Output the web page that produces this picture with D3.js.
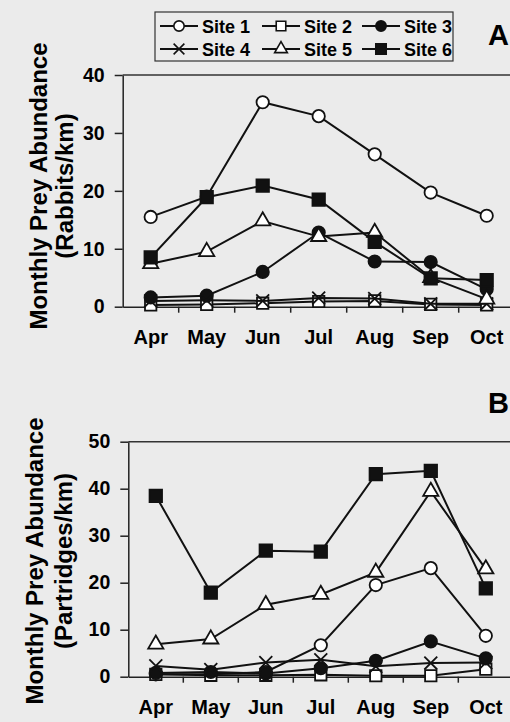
<!DOCTYPE html>
<html>
<head>
<meta charset="utf-8">
<title>Monthly prey abundance</title>
<script src="https://d3js.org/d3.v7.min.js"></script>
<style>
  body { margin: 0; background: #ebebeb; }
  svg { display: block; font-family: "Liberation Sans", Arial, sans-serif; font-weight: bold; }
  .axis text { font-size: 19.5px; font-weight: bold; fill: #000; font-family: "Liberation Sans", Arial, sans-serif; }
  .axis path, .axis line { stroke: #222; stroke-width: 1.5; }
</style>
</head>
<body>
<svg width="510" height="722"></svg>
<script>
// months on the x axis
var months = ["Apr", "May", "Jun", "Jul", "Aug", "Sep", "Oct"];
var siteNames = ["Site 1", "Site 2", "Site 3", "Site 4", "Site 5", "Site 6"];

// panel A: rabbits / km
var rabbitSite1 = [15.5, 19.0, 35.3, 32.9, 26.3, 19.7, 15.7];
var rabbitSite2 = [0.3, 0.4, 0.6, 0.9, 1.0, 0.4, 0.3];
var rabbitSite3 = [1.6, 1.9, 6.0, 12.8, 7.8, 7.7, 3.0];
var rabbitSite4 = [1.0, 1.1, 1.0, 1.5, 1.4, 0.5, 0.5];
var rabbitSite5 = [7.4, 9.5, 14.8, 12.1, 12.8, 5.0, 1.3];
var rabbitSite6 = [8.5, 18.9, 20.9, 18.5, 11.2, 4.9, 4.6];

// panel B: partridges / km
var partridgeSite1 = [0.5, 0.5, 1.0, 6.7, 19.5, 23.1, 8.7];
var partridgeSite2 = [0.5, 0.3, 0.3, 0.4, 0.2, 0.2, 1.6];
var partridgeSite3 = [0.8, 1.0, 0.7, 1.8, 3.4, 7.5, 3.9];
var partridgeSite4 = [2.3, 1.5, 3.0, 3.6, 2.2, 2.9, 3.0];
var partridgeSite5 = [6.9, 8.0, 15.3, 17.5, 22.2, 39.4, 22.9];
var partridgeSite6 = [38.5, 17.9, 26.8, 26.6, 43.1, 43.8, 18.8];

var rabbitTicks = [0, 10, 20, 30, 40];
var partridgeTicks = [0, 10, 20, 30, 40, 50];

var svg = d3.select("svg");

// marker for each site
var markers = [
  { type: d3.symbolCircle, size: 120, fill: "#fff" },
  { type: d3.symbolSquare, size: 130, fill: "#fff" },
  { type: d3.symbolCircle, size: 120, fill: "#111" },
  { type: d3.symbolX, size: 110, fill: "none" },
  { type: d3.symbolTriangle, size: 100, fill: "#fff" },
  { type: d3.symbolSquare, size: 155, fill: "#111" }
];

function drawPanel(opt) {
  var x = d3.scaleBand().domain(months).range([opt.left, opt.right]);
  var y = d3.scaleLinear().domain([0, d3.max(opt.ticks)]).range([opt.bottom, opt.top]);
  var g = svg.append("g");

  // top frame line
  g.append("line")
    .attr("x1", opt.left).attr("x2", opt.right)
    .attr("y1", y(d3.max(opt.ticks))).attr("y2", y(d3.max(opt.ticks)))
    .attr("stroke", "#333").attr("stroke-width", 1.5);

  g.append("g")
    .attr("class", "axis")
    .attr("transform", "translate(" + opt.left + ",0)")
    .call(d3.axisLeft(y).tickValues(opt.ticks).tickSize(8).tickSizeOuter(0).tickPadding(10));

  var xa = g.append("g")
    .attr("class", "axis")
    .attr("transform", "translate(0," + opt.bottom + ")")
    .call(d3.axisBottom(x).tickSize(0).tickPadding(opt.labelPad));
  xa.selectAll("text").style("font-size", "20px");
  // tick marks between months
  xa.selectAll(".sep")
    .data(months.slice(1))
    .enter().append("line")
    .attr("class", "sep")
    .attr("x1", function (d) { return x(d); })
    .attr("x2", function (d) { return x(d); })
    .attr("y1", 0).attr("y2", 6);

  var line = d3.line()
    .x(function (d, i) { return x(months[i]) + x.bandwidth() / 2; })
    .y(function (d) { return y(d); });

  opt.series.forEach(function (vals, s) {
    g.append("path")
      .attr("d", line(vals))
      .attr("fill", "none")
      .attr("stroke", "#111")
      .attr("stroke-width", 2);
    var m = markers[s];
    g.selectAll(".m" + s)
      .data(vals)
      .enter().append("path")
      .attr("transform", function (d, i) {
        return "translate(" + (x(months[i]) + x.bandwidth() / 2) + "," + y(d) + ")";
      })
      .attr("d", d3.symbol().type(m.type).size(m.size))
      .attr("fill", m.fill)
      .attr("stroke", "#111")
      .attr("stroke-width", 1.8);
  });

  // panel letter
  svg.append("text")
    .attr("x", 488).attr("y", opt.letterY)
    .style("font-size", "29px")
    .text(opt.letter);

  // y title, two lines
  svg.append("text")
    .attr("transform", "translate(" + opt.titleX1 + "," + opt.titleY + ") rotate(-90)")
    .attr("text-anchor", "middle")
    .style("font-size", "24px")
    .text("Monthly Prey Abundance");
  svg.append("text")
    .attr("transform", "translate(" + opt.titleX2 + "," + opt.titleY + ") rotate(-90)")
    .attr("text-anchor", "middle")
    .style("font-size", "24px")
    .text(opt.unit);
}

drawPanel({
  left: 122.7, right: 514.7, top: 75, bottom: 306.7, labelPad: 23,
  ticks: rabbitTicks,
  series: [rabbitSite1, rabbitSite2, rabbitSite3, rabbitSite4, rabbitSite5, rabbitSite6],
  letter: "A", letterY: 45, titleX1: 47, titleX2: 73, titleY: 186, unit: "(Rabbits/km)"
});

drawPanel({
  left: 128.3, right: 513.3, top: 441.7, bottom: 676.7, labelPad: 23,
  ticks: partridgeTicks,
  series: [partridgeSite1, partridgeSite2, partridgeSite3, partridgeSite4, partridgeSite5, partridgeSite6],
  letter: "B", letterY: 413, titleX1: 43, titleX2: 72, titleY: 561, unit: "(Partridges/km)"
});

// legend
var legend = svg.append("g");
legend.append("rect")
  .attr("x", 155).attr("y", 12).attr("width", 298).attr("height", 49)
  .attr("fill", "none").attr("stroke", "#333").attr("stroke-width", 1.2);

var legendCols = [160, 262, 362];
siteNames.forEach(function (name, i) {
  var x0 = legendCols[i % 3], yc = i < 3 ? 26 : 49;
  var m = markers[i];
  legend.append("line")
    .attr("x1", x0).attr("x2", x0 + 38).attr("y1", yc).attr("y2", yc)
    .attr("stroke", "#111").attr("stroke-width", 2);
  legend.append("path")
    .attr("transform", "translate(" + (x0 + 19) + "," + yc + ")")
    .attr("d", d3.symbol().type(m.type).size(m.size * 0.7))
    .attr("fill", m.fill).attr("stroke", "#111").attr("stroke-width", 1.6);
  legend.append("text")
    .attr("x", x0 + 42).attr("y", yc + 6.5)
    .style("font-size", "18px")
    .text(name);
});
</script>
</body>
</html>
